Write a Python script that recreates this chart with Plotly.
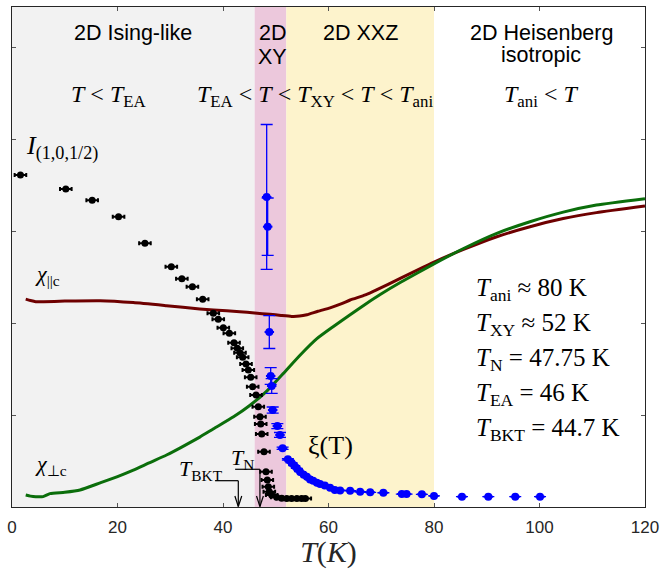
import plotly.graph_objects as go

# ---------------- data ----------------
# Neutron intensity I(1,0,1/2) (arb. units)
I_T = [1.6, 10.2, 15.2, 20.2, 25.2, 30.2, 32.2, 34.2, 36.15, 38.16, 39.1, 40.06, 41.2,
       42.09, 42.71, 43.22, 43.73, 44.36, 44.8, 45.25, 45.63, 46.26, 46.69, 47.01, 47.15,
       47.34, 47.77, 48.15, 48.4, 48.59, 48.78, 49.23, 50.18, 51.13, 52.08, 53.0, 54.0,
       54.9, 55.6]
I_val = [3.609, 3.457, 3.334, 3.155, 2.866, 2.612, 2.482, 2.395, 2.258, 2.105, 2.040, 1.949,
         1.888, 1.786, 1.725, 1.677, 1.627, 1.554, 1.489, 1.410, 1.308, 1.217, 1.090, 0.982,
         0.902, 0.793, 0.601, 0.384, 0.293, 0.221, 0.166, 0.130, 0.105, 0.095, 0.092, 0.092,
         0.092, 0.092, 0.092]

# correlation length xi(T)
xi_T = [48.28, 48.47, 48.78, 49.04, 49.23, 49.42, 50.3, 50.8, 51.3, 52.3, 53.0, 53.5, 54.0,
        54.6, 55.3, 55.9, 56.5, 57.1, 57.8, 58.4, 59.3, 60.3, 61.2, 62.2, 64.1, 66.0, 67.9,
        70.4, 73.9, 74.8, 77.7, 80.0, 85.3, 90.3, 95.4, 100.1]
xi_val = [3.370, 3.047, 1.902, 1.424, 1.315, 1.054, 0.880, 0.783, 0.638, 0.518, 0.480, 0.450,
          0.420, 0.384, 0.350, 0.329, 0.300, 0.285, 0.264, 0.250, 0.235, 0.210, 0.185, 0.180,
          0.177, 0.166, 0.160, 0.155, 0.141, 0.141, 0.138, 0.120, 0.112, 0.112, 0.112, 0.112]
xi_err = [0.788, 0.312, 0.179, 0.09, 0.08, 0.033, 0.027, 0.027, 0.012, 0.008, 0, 0, 0,
          0, 0, 0, 0, 0, 0, 0, 0, 0, 0, 0, 0, 0, 0, 0, 0, 0, 0, 0, 0, 0, 0, 0]

# susceptibility parallel to c
chipar_T = [2.6, 3.5, 4.5, 6, 10, 16.7, 23, 29.3, 35.6, 38.2, 43.2, 46, 48.9, 51, 53, 54.5,
            55.9, 58, 60.3, 62.5, 64.1, 67, 69.1, 73.6, 79.9, 85.6, 91.9, 98.2, 104.5, 110.8, 120]
chipar_val = [2.26, 2.245, 2.232, 2.232, 2.238, 2.242, 2.222, 2.188, 2.152, 2.141, 2.123, 2.108,
              2.095, 2.082, 2.072, 2.075, 2.09, 2.128, 2.165, 2.210, 2.25, 2.305, 2.359, 2.486,
              2.66, 2.80, 2.938, 3.047, 3.135, 3.200, 3.272]

# susceptibility perpendicular to c
chiperp_T = [2.6, 3.5, 4.5, 5.9, 7.2, 10, 12.9, 16.7, 20, 23, 26, 29.3, 32, 35.6, 38.2, 42,
             45, 48.3, 51.4, 54.6, 57.8, 61, 64.1, 67, 69.8, 73.6, 79.9, 85.6, 91.9, 98.2,
             104.5, 110.8, 120]
chiperp_val = [0.130, 0.118, 0.112, 0.113, 0.145, 0.16, 0.185, 0.262, 0.33, 0.40, 0.48, 0.565,
               0.645, 0.76, 0.85, 0.98, 1.10, 1.26, 1.45, 1.65, 1.83, 1.965, 2.09, 2.205,
               2.31, 2.44, 2.64, 2.81, 2.975, 3.101, 3.205, 3.282, 3.351]

# regime boundaries (K)
T_EA, T_XY, T_ani = 46, 52, 80
arrow_BKT_T, arrow_N_T = 42.9, 47.0

x_ticks = [0, 20, 40, 60, 80, 100, 120]
YMAX = 5.435

# ---------------- figure ----------------
fig = go.Figure()

SERIF = "Liberation Serif"
SANS = "Liberation Sans"

# regions
fig.add_shape(type="rect", xref="x", yref="paper", x0=0, x1=T_EA, y0=0, y1=1,
              fillcolor="#f2f2f2", line_width=0, layer="below")
fig.add_shape(type="rect", xref="x", yref="paper", x0=T_EA, x1=T_XY, y0=0, y1=1,
              fillcolor="#ecc8dc", line_width=0, layer="below")
fig.add_shape(type="rect", xref="x", yref="paper", x0=T_XY, x1=T_ani, y0=0, y1=1,
              fillcolor="#fdf3cc", line_width=0, layer="below")

fig.add_trace(go.Scatter(x=chipar_T, y=chipar_val, mode="lines",
                         line=dict(color="#6e0000", width=3, shape="spline", smoothing=0.5),
                         showlegend=False))
fig.add_trace(go.Scatter(x=chiperp_T, y=chiperp_val, mode="lines",
                         line=dict(color="#0b6e0b", width=3, shape="spline", smoothing=0.5),
                         showlegend=False))

fig.add_trace(go.Scatter(x=I_T, y=I_val, mode="markers",
                         marker=dict(color="black", size=7),
                         error_x=dict(type="constant", value=1.1, color="black", thickness=2, width=2),
                         showlegend=False))

fig.add_trace(go.Scatter(x=xi_T, y=xi_val, mode="markers",
                         marker=dict(color="#0000ff", size=8),
                         error_y=dict(type="data", array=xi_err, color="#0000ff", thickness=1.3, width=6),
                         error_x=dict(type="constant", value=0.9, color="#0000ff", thickness=2, width=0),
                         showlegend=False))

# arrows for T_BKT and T_N
def add_arrow(xt, y_top, x_left):
    lc = dict(color="black", width=1.2)
    fig.add_shape(type="line", x0=x_left, x1=xt, y0=y_top, y1=y_top, line=lc)
    fig.add_shape(type="line", x0=xt, x1=xt, y0=y_top, y1=0.005, line=lc)
    fig.add_shape(type="line", x0=xt - 0.65, x1=xt, y0=0.12, y1=0.005, line=lc)
    fig.add_shape(type="line", x0=xt + 0.65, x1=xt, y0=0.12, y1=0.005, line=lc)

add_arrow(arrow_BKT_T, 0.286, 38.5)
add_arrow(arrow_N_T, 0.41, 42.3)

def txt(x, y, s, size, family, xanchor="center", yanchor="middle"):
    fig.add_annotation(x=x, y=y, xref="x", yref="y", text=s, showarrow=False,
                       font=dict(family=family, size=size, color="black"),
                       xanchor=xanchor, yanchor=yanchor, align="center")

# regime headers
txt(22.9, 5.15, "2D Ising-like", 21.5, SANS)
txt(49.3, 5.15, "2D", 21.5, SANS)
txt(49.3, 4.89, "XY", 21.5, SANS)
txt(66.0, 5.15, "2D XXZ", 21.5, SANS)
txt(100.3, 5.15, "2D Heisenberg", 21.5, SANS)
txt(100.3, 4.91, "isotropic", 21.5, SANS)

# inequalities
txt(18.2, 4.47, "<i>T</i> &lt; <i>T</i><sub>EA</sub>", 24, SERIF)
txt(57.4, 4.47, "<i>T</i><sub>EA</sub> &lt; <i>T</i> &lt; <i>T</i><sub>XY</sub> &lt; <i>T</i> &lt; <i>T</i><sub>ani</sub>", 24, SERIF)
txt(100.3, 4.47, "<i>T</i><sub>ani</sub> &lt; <i>T</i>", 24, SERIF)

# curve labels
txt(2.2, 3.91, "<i>I</i><sub>(1,0,1/2)</sub>", 26, SERIF, xanchor="left")
txt(4.0, 2.52, "<i>χ</i><sub>||c</sub>", 22, SERIF, xanchor="left")
txt(4.0, 0.46, "<i>χ</i><sub>⊥c</sub>", 22, SERIF, xanchor="left")
txt(60.3, 0.67, "ξ(T)", 26, SERIF)
txt(40.3, 0.40, "<i>T</i><sub>BKT</sub>", 22, SERIF, xanchor="right")
txt(41.2, 0.52, "<i>T</i><sub>N</sub>", 22, SERIF, xanchor="left")

# values block
vals = ["<i>T</i><sub>ani</sub> ≈ 80 K",
        "<i>T</i><sub>XY</sub> ≈ 52 K",
        "<i>T</i><sub>N</sub> = 47.75 K",
        "<i>T</i><sub>EA</sub> = 46 K",
        "<i>T</i><sub>BKT</sub> = 44.7 K"]
vals_y = [2.36, 1.98, 1.60, 1.22, 0.84]
for s, yy in zip(vals, vals_y):
    txt(87.6, yy, s, 25, SERIF, xanchor="left")

axis_common = dict(showgrid=False, zeroline=False, showline=True, linecolor="#262626",
                   linewidth=1, mirror="ticks", ticks="inside", ticklen=4, tickcolor="#555555",
                   automargin=False)

fig.update_xaxes(range=[0, 120], tickvals=x_ticks, ticktext=[str(v) for v in x_ticks],
                 tickfont=dict(family=SANS, size=17, color="#262626"),
                 ticklabeloverflow="allow", ticklabelstandoff=5,
                 title=dict(text="<i>T</i>(<i>K</i>)", font=dict(family=SERIF, size=30, color="#262626"),
                            standoff=0),
                 **axis_common)
fig.update_yaxes(range=[0, YMAX], tickvals=[0, 1, 2, 3, 4, 5], showticklabels=False, **axis_common)

fig.update_layout(width=662, height=569, margin=dict(l=12, r=17, t=7, b=62),
                  plot_bgcolor="white", paper_bgcolor="white")

# remove the browser's default body margin so the figure fills the window exactly
fig.write_html("out.html",
               config={"displayModeBar": False},
               post_script="document.body.style.margin='0';"
                           "document.body.style.overflow='hidden';"
                           "document.documentElement.style.overflow='hidden';")
